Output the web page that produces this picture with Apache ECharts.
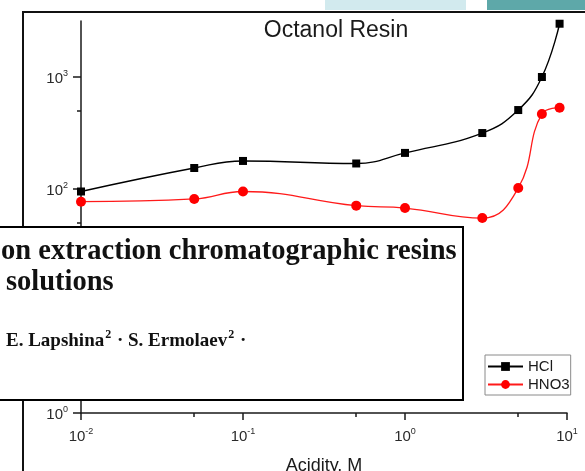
<!DOCTYPE html>
<html>
<head>
<meta charset="utf-8">
<script src="https://cdn.jsdelivr.net/npm/echarts@6/dist/echarts.min.js"></script>
<style>html,body{margin:0;padding:0;background:#fff;}#c{width:585px;height:471px;}</style>
</head>
<body>
<div id="c"></div>
<script>
// ---- data ----
const acidity = [0.01, 0.05, 0.1, 0.5, 1, 3, 5, 7, 9];
const hcl = [95, 154, 178, 169, 210, 316, 507, 1000, 2990];
const hno3 = [77, 81.5, 95, 71, 67.6, 55, 102, 468, 532];
const xMajorTicks = [0.01, 0.1, 1, 10];
const xMinorTicks = [0.05, 0.5, 5];
const yMajorTicks = [1, 10, 100, 1000];
const yMinorTicks = [5, 50, 500];
const seriesNames = ['HCl', 'HNO3'];
const chartTitle = 'Octanol Resin';
const xName = 'Acidity, M';
const paperLine1 = 'on extraction chromatographic resins';
const paperLine2 = 'solutions';

const SANS = '"Liberation Sans", Arial, sans-serif';
const SERIF = '"Liberation Serif", "Times New Roman", serif';

function powLabel(v) {
  const e = Math.round(Math.log10(v));
  return '{b|10}{s|' + (e < 0 ? '-' + (-e) : e) + '}';
}
const labelRich = {
  b: { fontSize: 15, fontFamily: SANS, color: '#2a2a2a', lineHeight: 16 },
  s: { fontSize: 9, fontFamily: SANS, color: '#2a2a2a', lineHeight: 10, padding: [0, 0, 11, 0] }
};
const axisColor = '#1a1a1a';

const chart = echarts.init(document.getElementById('c'), null, { renderer: 'canvas' });
const option = {
  animation: false,
  backgroundColor: '#fff',
  grid: { left: 81, right: 18, top: 21, bottom: 58, containLabel: false, outerBoundsMode: 'none' },
  xAxis: [
    {
      type: 'log', logBase: 10, min: 0.01, max: 10, position: 'bottom',
      name: xName, nameLocation: 'middle', nameGap: 44,
      nameTextStyle: { fontSize: 18, fontFamily: SANS, color: '#1a1a1a' },
      axisLine: { lineStyle: { color: axisColor, width: 1.5 } },
      axisTick: { customValues: xMajorTicks, length: 7, lineStyle: { color: axisColor, width: 1.5 } },
      axisLabel: { customValues: xMajorTicks, margin: 16, formatter: powLabel, rich: labelRich },
      splitLine: { show: false }, minorTick: { show: false }
    },
    {
      type: 'log', logBase: 10, min: 0.01, max: 10, position: 'bottom',
      axisLine: { show: false },
      axisTick: { customValues: xMinorTicks, length: 4, lineStyle: { color: axisColor, width: 1.5 } },
      axisLabel: { show: false },
      splitLine: { show: false }
    }
  ],
  yAxis: [
    {
      type: 'log', logBase: 10, min: 1, max: Math.pow(10, 3.5), position: 'left',
      axisLine: { show: true, lineStyle: { color: axisColor, width: 1.5 } },
      axisTick: { show: true, customValues: yMajorTicks, length: 8, lineStyle: { color: axisColor, width: 1.5 } },
      axisLabel: { customValues: yMajorTicks, margin: 13, padding: [4, 0, 0, 0], formatter: powLabel, rich: labelRich },
      splitLine: { show: false }
    },
    {
      type: 'log', logBase: 10, min: 1, max: Math.pow(10, 3.5), position: 'left',
      axisLine: { show: false },
      axisTick: { show: true, customValues: yMinorTicks, length: 4, lineStyle: { color: axisColor, width: 1.5 } },
      axisLabel: { show: false },
      splitLine: { show: false }
    }
  ],
  legend: {
    data: seriesNames,
    orient: 'vertical', left: 485, top: 355,
    backgroundColor: '#fff', borderColor: '#8a8a8a', borderWidth: 1,
    padding: [4, 1, 3, 2], itemGap: 3, itemWidth: 35, itemHeight: 11,
    textStyle: { fontSize: 15, fontFamily: SANS, color: '#1a1a1a' }
  },
  series: [
    {
      name: seriesNames[0], type: 'line', xAxisIndex: 0, yAxisIndex: 0,
      data: acidity.map((x, i) => [x, hcl[i]]),
      smooth: 0.45, symbol: 'rect', symbolSize: 8,
      lineStyle: { color: '#000', width: 1.4 }, itemStyle: { color: '#000' }, z: 3
    },
    {
      name: seriesNames[1], type: 'line', xAxisIndex: 0, yAxisIndex: 0,
      data: acidity.map((x, i) => [x, hno3[i]]),
      smooth: 0.45, symbol: 'circle', symbolSize: 10,
      lineStyle: { color: '#ff1a1a', width: 1.3 }, itemStyle: { color: '#ff0000' }, z: 2
    }
  ],
  graphic: [
    { type: 'rect', shape: { x: 325, y: 0, width: 141, height: 10 }, style: { fill: '#d2eaee' }, z: 1 },
    { type: 'rect', shape: { x: 487, y: 0, width: 98, height: 10 }, style: { fill: '#5ea8a9' }, z: 1 },
    { type: 'polyline', shape: { points: [[23, 471], [23, 12], [585, 12]] }, style: { stroke: '#111', lineWidth: 2, fill: null }, z: 1 },
    { type: 'text', x: 336, y: 31, style: { text: chartTitle, fontSize: 23, fontFamily: SANS, fill: '#1a1a1a', textAlign: 'center', textVerticalAlign: 'middle' }, z: 5 },
    { type: 'rect', shape: { x: -5, y: 227, width: 468, height: 173 }, style: { fill: '#fff', stroke: '#000', lineWidth: 2 }, z: 50 },
    { type: 'text', x: 1, y: 252, style: { text: paperLine1, fontSize: 28.5, fontWeight: 'bold', fontFamily: SERIF, fill: '#111', textAlign: 'left', textVerticalAlign: 'middle' }, z: 51 },
    { type: 'text', x: 6, y: 283, style: { text: paperLine2, fontSize: 28.5, fontWeight: 'bold', fontFamily: SERIF, fill: '#111', textAlign: 'left', textVerticalAlign: 'middle' }, z: 51 },
    { type: 'text', x: 6, y: 341, style: {
        text: '{n|E. Lapshina}{s|2}{n| · S. Ermolaev}{s|2}{n| ·}',
        textAlign: 'left', textVerticalAlign: 'middle',
        rich: {
          n: { fontSize: 19, fontWeight: 'bold', fontFamily: SERIF, fill: '#111', color: '#111', lineHeight: 20 },
          s: { fontSize: 12, fontWeight: 'bold', fontFamily: SERIF, fill: '#111', color: '#111', lineHeight: 12, padding: [0, 1, 12, 1] }
        }
      }, z: 51 }
  ]
};
chart.setOption(option);
</script>
</body>
</html>
